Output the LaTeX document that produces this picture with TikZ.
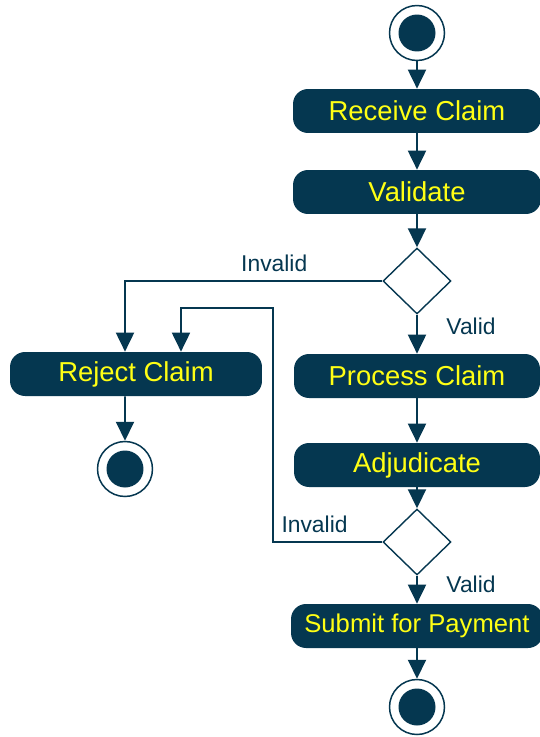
\documentclass[tikz,border=0pt]{standalone}
\usepackage{fontspec}
\setmainfont{Liberation Sans}
\usepackage{xcolor}
\usetikzlibrary{arrows.meta,shapes.geometric,positioning}
\definecolor{ClaimNavy}{HTML}{053750}
\definecolor{ClaimYellow}{HTML}{FFFF14}

\begin{document}
\begin{tikzpicture}[x=0.02cm,y=-0.02cm,
  actbox/.style={fill=ClaimNavy,rounded corners=0.3cm,minimum height=0.88cm,inner sep=0pt,
    text=ClaimYellow,font=\fontsize{15.6}{18}\selectfont},
  decision/.style={diamond,draw=ClaimNavy,fill=white,line width=0.8pt,inner sep=0pt,
    minimum width=1.36cm,minimum height=1.32cm},
  endpoint/.style={circle,draw=ClaimNavy,line width=0.85pt,minimum size=1.1cm,inner sep=0pt,
    path picture={\fill[ClaimNavy] (path picture bounding box.center) circle (0.37cm);}},
  flow/.style={draw=ClaimNavy,line width=1.1pt,-{Triangle[width=0.36cm,length=0.38cm]}},
  lbl/.style={text=ClaimNavy,font=\fontsize{13}{15}\selectfont,inner sep=2pt}]
\path[use as bounding box] (0,0) rectangle (540,737);
\fill[white] (0,0) rectangle (540,737);
\node[endpoint] (start) at (417,33) {};
\node[actbox,minimum width=4.96cm] (receive) at (417,111) {Receive Claim};
\node[actbox,minimum width=4.96cm] (validate) at (417,192) {Validate};
\node[decision] (check) at (417,281) {};
\node[actbox,minimum width=5.04cm] (reject) at (136,374) {Reject Claim};
\node[actbox,minimum width=4.92cm] (process) at (417,376) {Process Claim};
\node[endpoint] (rejected) at (125,469) {};
\node[actbox,minimum width=4.92cm] (adjudicate) at (417,465) {Adjudicate};
\node[decision] (review) at (417,542) {};
\node[actbox,minimum width=5.04cm,font=\fontsize{14.6}{18}\selectfont] (submit) at (417,626) {Submit for Payment};
\node[endpoint] (paid) at (417,707) {};
\coordinate (rejA) at ([xshift=-0.22cm]reject.north);
\coordinate (rejB) at ([xshift=0.9cm]reject.north);
\coordinate (rejC) at ([xshift=-0.22cm]reject.south);
\coordinate (loop) at (273,308);
\draw[flow] (start) -- (receive);
\draw[flow] (receive) -- (validate);
\draw[flow] (validate) -- (check);
\draw[flow] (check) -- node[lbl,pos=0.3,right=0.5cm] {Valid} (process);
\draw[flow] (check.west) -| node[lbl,pos=0.21,above=0.1cm] {Invalid} (rejA);
\draw[flow] (rejC) -- (rejected);
\draw[flow] (process) -- (adjudicate);
\draw[flow] (adjudicate) -- (review);
\draw[flow] (review) -- node[lbl,pos=0.3,right=0.5cm] {Valid} (submit);
\draw[flow] (review.west) -| node[lbl,pos=0.31,above=0.1cm] {Invalid} (loop) -| (rejB);
\draw[flow] (submit) -- (paid);
\end{tikzpicture}
\end{document}
